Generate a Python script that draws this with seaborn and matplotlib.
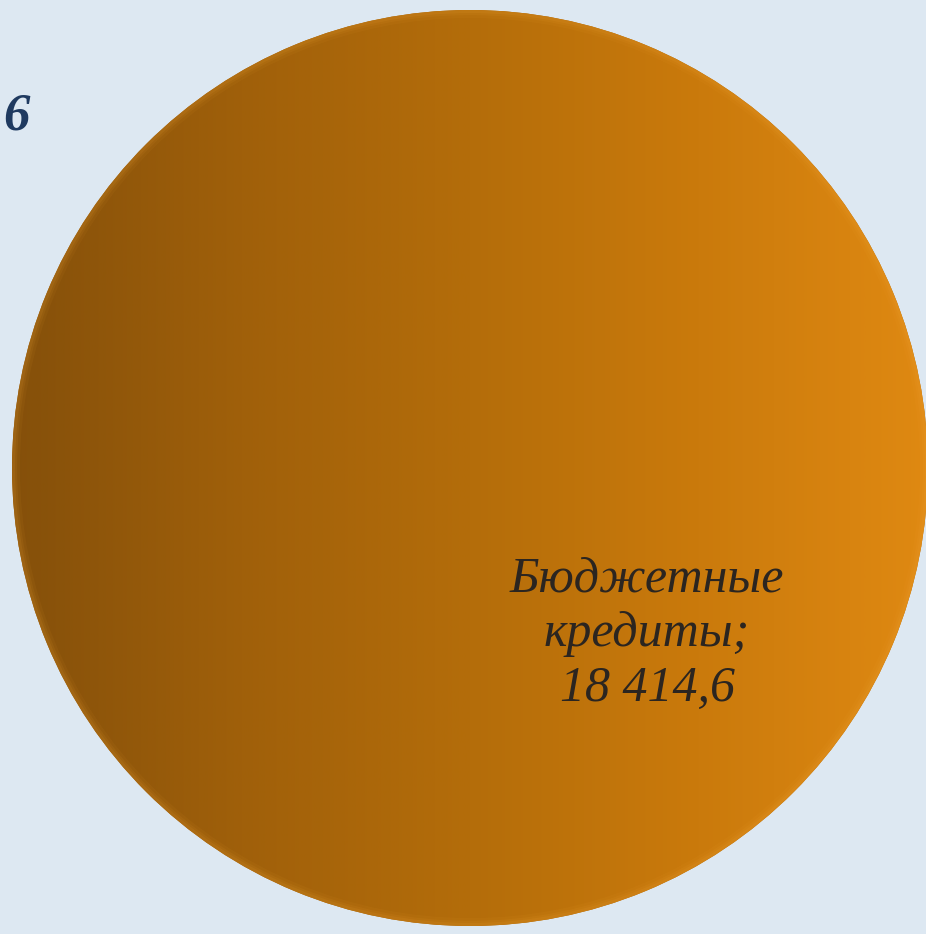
import numpy as np
import matplotlib
matplotlib.use("Agg")
import matplotlib.pyplot as plt
import seaborn as sns
from matplotlib.colors import LinearSegmentedColormap

# ---- data ----
categories = ["Бюджетные кредиты"]
values = [18414.6]
value_labels = ["18 414,6"]
partial_label = "6"   # label of a neighbouring slice cut off at the left edge

sns.set_theme(style="white")
plt.rcParams['font.family'] = ['Liberation Serif', 'DejaVu Serif']

W, H = 926, 934
fig = plt.figure(figsize=(W / 100, H / 100), dpi=100)
bg = "#dde8f2"
fig.patch.set_facecolor(bg)
ax = fig.add_axes([0, 0, 1, 1])
ax.set_facecolor(bg)

cx, cy, r = 470, 468, 458
wedges, _ = ax.pie(values, center=(cx, cy), radius=r, startangle=90,
                   colors=["#b36c0a"], wedgeprops=dict(linewidth=0))
ax.set_xlim(0, W)
ax.set_ylim(H, 0)
ax.set_aspect("equal")
ax.axis("off")

# horizontal gradient fill clipped to the wedge
cmap = LinearSegmentedColormap.from_list(
    "amber", ["#85500a", "#a0600a", "#b46d0a", "#ca7a0c", "#df8912"])
grad = np.linspace(0, 1, 512)[None, :]
grad = np.repeat(grad, 2, axis=0)
im = ax.imshow(grad, cmap=cmap, extent=(cx - r, cx + r, cy + r, cy - r),
               aspect="auto", zorder=2, interpolation="bilinear")
im.set_clip_path(wedges[0])

# soft rim highlight
for w, a in [(10, 0.06), (6, 0.08), (3, 0.10)]:
    rim = plt.Circle((cx, cy), r - 1, fill=False, lw=w, ec="#f3a83a", alpha=a, zorder=3)
    ax.add_patch(rim)
    rim.set_clip_path(wedges[0])

ax.set_xlim(0, W)
ax.set_ylim(H, 0)

ax.text(647, 634, f"{categories[0].split()[0]}\n{categories[0].split()[1]};\n{value_labels[0]}",
        ha="center", va="center", fontsize=36, style="italic",
        color="#2b2520", linespacing=1.24, zorder=5)

ax.text(3, 116, partial_label, ha="left", va="center", fontsize=38,
        style="italic", fontweight="bold", color="#1f3a60", zorder=5)

fig.savefig("out.png", dpi=100, facecolor=bg)
